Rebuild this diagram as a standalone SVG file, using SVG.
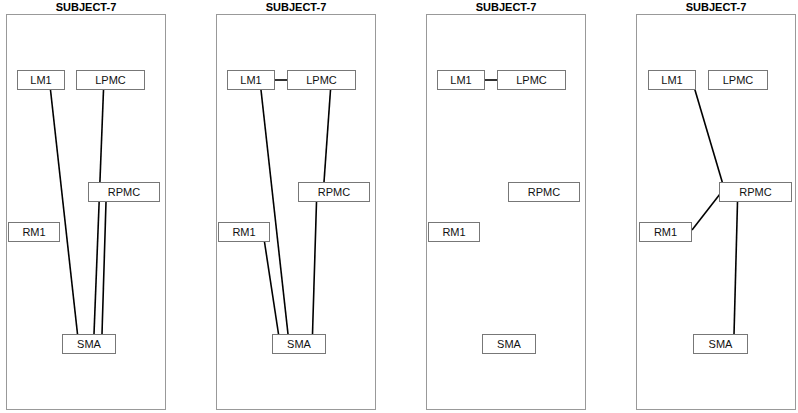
<svg xmlns="http://www.w3.org/2000/svg" width="798" height="413" viewBox="0 0 798 413">
<style>
.frame{fill:#fff;stroke:#999;stroke-width:1}
.title{font-family:"Liberation Sans",Arial,sans-serif;font-size:11px;font-weight:bold;fill:#000;text-anchor:middle}
.box{fill:#fff;stroke:#777;stroke-width:1}
.lbl{font-family:"Liberation Sans",Arial,sans-serif;font-size:11px;fill:#111;text-anchor:middle}
.edge{stroke:#000;stroke-width:1.6;fill:none}
</style>
<rect width="798" height="413" fill="#fff"/>
<g id="panel1">
<rect class="frame" x="6.5" y="14.5" width="159" height="395"/>
<text class="title" x="86" y="11">SUBJECT-7</text>
<g id="p1-edges">
<line class="edge" x1="50.5" y1="90" x2="77.5" y2="334"/>
<line class="edge" x1="103.5" y1="90" x2="94" y2="334"/>
<line class="edge" x1="106" y1="202" x2="102" y2="334"/>
</g>
<g id="p1-LM1"><rect class="box" x="17.5" y="70.5" width="47" height="19"/><text class="lbl" x="41" y="84">LM1</text></g>
<g id="p1-LPMC"><rect class="box" x="76.5" y="70.5" width="68" height="19"/><text class="lbl" x="110.5" y="84">LPMC</text></g>
<g id="p1-RPMC"><rect class="box" x="88.5" y="182.5" width="71" height="19"/><text class="lbl" x="124" y="196">RPMC</text></g>
<g id="p1-RM1"><rect class="box" x="8.5" y="222.5" width="51" height="19"/><text class="lbl" x="34" y="236">RM1</text></g>
<g id="p1-SMA"><rect class="box" x="62.5" y="334.5" width="53" height="19"/><text class="lbl" x="89" y="348">SMA</text></g>
</g>
<g id="panel2">
<rect class="frame" x="216.5" y="14.5" width="159" height="395"/>
<text class="title" x="296" y="11">SUBJECT-7</text>
<g id="p2-edges">
<line class="edge" x1="274.5" y1="80" x2="287.5" y2="80"/>
<line class="edge" x1="261" y1="90" x2="288" y2="334"/>
<line class="edge" x1="330.5" y1="90" x2="324" y2="182"/>
<line class="edge" x1="316.5" y1="202" x2="312.5" y2="334"/>
<line class="edge" x1="264.5" y1="242" x2="278.5" y2="334"/>
</g>
<g id="p2-LM1"><rect class="box" x="227.5" y="70.5" width="47" height="19"/><text class="lbl" x="251" y="84">LM1</text></g>
<g id="p2-LPMC"><rect class="box" x="287.5" y="70.5" width="68" height="19"/><text class="lbl" x="321.5" y="84">LPMC</text></g>
<g id="p2-RPMC"><rect class="box" x="298.5" y="182.5" width="71" height="19"/><text class="lbl" x="334" y="196">RPMC</text></g>
<g id="p2-RM1"><rect class="box" x="218.5" y="222.5" width="51" height="19"/><text class="lbl" x="244" y="236">RM1</text></g>
<g id="p2-SMA"><rect class="box" x="272.5" y="334.5" width="53" height="19"/><text class="lbl" x="299" y="348">SMA</text></g>
</g>
<g id="panel3">
<rect class="frame" x="426.5" y="14.5" width="159" height="395"/>
<text class="title" x="506" y="11">SUBJECT-7</text>
<g id="p3-edges">
<line class="edge" x1="484.5" y1="80" x2="497.5" y2="80"/>
</g>
<g id="p3-LM1"><rect class="box" x="437.5" y="70.5" width="47" height="19"/><text class="lbl" x="461" y="84">LM1</text></g>
<g id="p3-LPMC"><rect class="box" x="497.5" y="70.5" width="68" height="19"/><text class="lbl" x="531.5" y="84">LPMC</text></g>
<g id="p3-RPMC"><rect class="box" x="508.5" y="182.5" width="71" height="19"/><text class="lbl" x="544" y="196">RPMC</text></g>
<g id="p3-RM1"><rect class="box" x="428.5" y="222.5" width="51" height="19"/><text class="lbl" x="454" y="236">RM1</text></g>
<g id="p3-SMA"><rect class="box" x="482.5" y="334.5" width="53" height="19"/><text class="lbl" x="509" y="348">SMA</text></g>
</g>
<g id="panel4">
<rect class="frame" x="636.5" y="14.5" width="159" height="395"/>
<text class="title" x="716" y="11">SUBJECT-7</text>
<g id="p4-edges">
<line class="edge" x1="693.5" y1="85" x2="724" y2="188"/>
<line class="edge" x1="692" y1="230" x2="720" y2="194"/>
<line class="edge" x1="737.5" y1="202" x2="734" y2="335"/>
</g>
<g id="p4-LM1"><rect class="box" x="648.5" y="70.5" width="47" height="19"/><text class="lbl" x="672" y="84">LM1</text></g>
<g id="p4-LPMC"><rect class="box" x="708.5" y="70.5" width="59" height="19"/><text class="lbl" x="738" y="84">LPMC</text></g>
<g id="p4-RPMC"><rect class="box" x="719.5" y="182.5" width="72" height="19"/><text class="lbl" x="755.5" y="196">RPMC</text></g>
<g id="p4-RM1"><rect class="box" x="639.5" y="222.5" width="52" height="19"/><text class="lbl" x="665.5" y="236">RM1</text></g>
<g id="p4-SMA"><rect class="box" x="693.5" y="334.5" width="54" height="19"/><text class="lbl" x="720.5" y="348">SMA</text></g>
</g>
</svg>
